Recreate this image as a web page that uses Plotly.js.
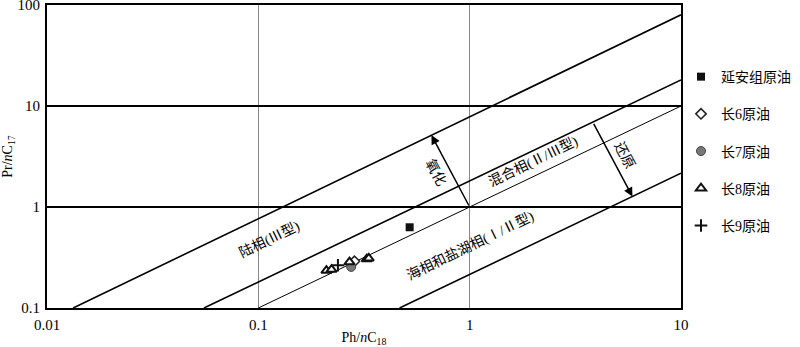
<!DOCTYPE html>
<html>
<head>
<meta charset="utf-8">
<script src="https://cdn.plot.ly/plotly-3.0.1.min.js"></script>
<style>html,body{margin:0;padding:0;background:#fff;}#chart{width:800px;height:347px;}</style>
</head>
<body>
<div id="chart"></div>
<script>
// Boundary lines (Ph/nC18, Pr/nC17 endpoints)
const lineA_x = [0.0133, 10];  const lineA_y = [0.1, 80];
const lineB_x = [0.0553, 10];  const lineB_y = [0.1, 18.1];
const lineC_x = [0.1, 10];     const lineC_y = [0.1, 10];
const lineD_x = [0.466, 10];   const lineD_y = [0.1, 2.16];

// Oil samples
const seriesNames = ['延安组原油', '长6原油', '长7原油', '长8原油', '长9原油'];
const yanan_x = [0.52];                 const yanan_y = [0.63];
const c6_x = [0.285];                   const c6_y = [0.29];
const c7_x = [0.275];                   const c7_y = [0.255];
const c8_x = [0.21, 0.222, 0.27, 0.326, 0.333]; const c8_y = [0.235, 0.24, 0.285, 0.305, 0.31];
const c9_x = [0.238];                   const c9_y = [0.265];

// Axis ticks
const xTickVals = [0.01, 0.1, 1, 10];  const xTickText = ['0.01', '0.1', '1', '10'];
const yTickVals = [0.1, 1, 10, 100];   const yTickText = ['0.1', '1', '10', '100'];

// Arrows: [from, to]
const oxid_from = [1, 1];      const oxid_to = [0.659, 5.15];
const redu_from = [3.83, 6.9]; const redu_to = [5.89, 1.27];

const FONT = 'Liberation Serif, "Noto Sans CJK SC", serif';
const L = Math.log10;

function lineTrace(x, y, w) {
  return {x: x, y: y, mode: 'lines', line: {color: '#000', width: w}, showlegend: false, hoverinfo: 'skip'};
}
const traces = [
  lineTrace(lineA_x, lineA_y, 1.6),
  lineTrace(lineB_x, lineB_y, 1.6),
  lineTrace(lineC_x, lineC_y, 1),
  lineTrace(lineD_x, lineD_y, 1.6),
  {x: yanan_x, y: yanan_y, name: seriesNames[0], legendgroup: 'a', mode: 'markers',
   marker: {symbol: 'square', size: 8, color: '#111'}},
  {x: c6_x, y: c6_y, name: seriesNames[1], legendgroup: 'b', mode: 'markers',
   marker: {symbol: 'diamond', size: 8, color: '#fff', line: {color: '#222', width: 1.5}}},
  {x: c7_x, y: c7_y, name: seriesNames[2], legendgroup: 'c', mode: 'markers',
   marker: {symbol: 'circle', size: 9, color: '#777', line: {color: '#444', width: 1}}},
  {x: c8_x, y: c8_y, name: seriesNames[3], legendgroup: 'd', mode: 'markers',
   marker: {symbol: 'triangle-up', size: 9, color: '#fff', line: {color: '#111', width: 2}}},
  {x: c9_x, y: c9_y, name: seriesNames[4], legendgroup: 'e', mode: 'markers',
   marker: {symbol: 'cross-thin', size: 9, color: '#111', line: {color: '#111', width: 2}}}
];

function label(text, px, py, angle) {
  return {x: L(px), y: L(py), xref: 'x', yref: 'y', text: text, showarrow: false,
          textangle: angle, font: {family: FONT, size: 14, color: '#000'}};
}
function arrow(from, to) {
  return {x: L(to[0]), y: L(to[1]), ax: L(from[0]), ay: L(from[1]), xref: 'x', yref: 'y',
          axref: 'x', ayref: 'y', text: '', showarrow: true, arrowhead: 2, arrowsize: 1.2,
          arrowwidth: 1.5, arrowcolor: '#000', standoff: 0, startstandoff: 0};
}

const layout = {
  width: 800, height: 347,
  margin: {l: 47, r: 119, t: 5, b: 39, autoexpand: false},
  paper_bgcolor: '#fff', plot_bgcolor: '#fff',
  font: {family: FONT, size: 14, color: '#000'},
  xaxis: {type: 'log', range: [-2, 1], tickvals: xTickVals, ticktext: xTickText,
          showgrid: true, gridcolor: '#888', gridwidth: 1, zeroline: false,
          showline: true, mirror: true, linecolor: '#000', linewidth: 2, ticks: '',
          tickfont: {family: FONT, size: 15}, ticklabelstandoff: 2, ticklabeloverflow: 'allow',
          automargin: false,
          title: {text: 'Ph/<i>n</i>C<sub>18</sub>', font: {family: FONT, size: 14}, standoff: 4}},
  yaxis: {type: 'log', range: [-1, 2], tickvals: yTickVals, ticktext: yTickText,
          showgrid: true, gridcolor: '#000', gridwidth: 1.5, zeroline: false,
          showline: true, mirror: true, linecolor: '#000', linewidth: 2, ticks: '',
          tickfont: {family: FONT, size: 15}, ticklabelstandoff: 2, ticklabeloverflow: 'allow',
          automargin: false,
          title: {text: 'Pr/<i>n</i>C<sub>17</sub>', font: {family: FONT, size: 14}, standoff: 4}},
  legend: {x: 1.0, y: 0.815, xanchor: 'left', yanchor: 'top', traceorder: 'grouped',
           tracegroupgap: 16, font: {family: FONT, size: 14}, bgcolor: 'rgba(0,0,0,0)',
           itemwidth: 30},
  annotations: [
    label('陆相(Ⅲ型)', 0.113, 0.47, -26),
    label('混合相(Ⅱ/Ⅲ型)', 2.01, 2.78, -26),
    label('海相和盐湖相(Ⅰ/Ⅱ型)', 1.02, 0.41, -26),
    label('氧化', 0.691, 2.21, 62),
    label('还原', 5.42, 3.26, 62),
    arrow(oxid_from, oxid_to),
    arrow(redu_from, redu_to)
  ]
};

Plotly.newPlot('chart', traces, layout, {displayModeBar: false, staticPlot: true});
</script>
</body>
</html>
